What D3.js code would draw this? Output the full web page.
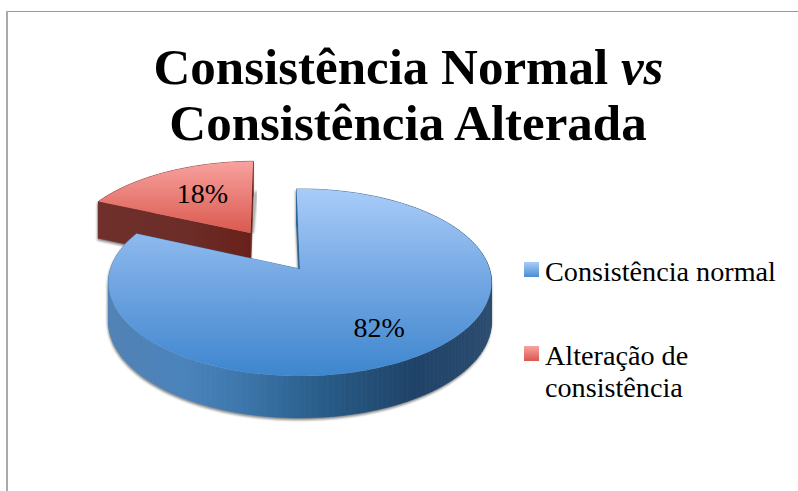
<!DOCTYPE html>
<html>
<head>
<meta charset="utf-8">
<script src="https://cdn.jsdelivr.net/npm/d3@7"></script>
<style>
  html, body { margin: 0; padding: 0; background: #fff; }
  svg { display: block; }
  text { font-family: "Liberation Serif", serif; fill: #000; }
</style>
</head>
<body>
<div id="chart"></div>
<script>
// chart values
const categories = ["Consistência normal", "Alteração de consistência"];
const values = [82, 18];
const labels = ["82%", "18%"];
const exploded = [0, 0.5];

const width = 798;
const height = 491;
const svg = d3.select("#chart").append("svg")
    .attr("width", width)
    .attr("height", height);

const defs = svg.append("defs");

function addGradient(id, stops, x1, y1, x2, y2) {
    const g = defs.append("linearGradient")
        .attr("id", id)
        .attr("gradientUnits", "userSpaceOnUse")
        .attr("x1", x1).attr("y1", y1)
        .attr("x2", x2).attr("y2", y2);
    stops.forEach(s => g.append("stop").attr("offset", s[0]).attr("stop-color", s[1]));
}

addGradient("topBlue", [[0, "#a8ccf9"], [0.5, "#72a6e2"], [1, "#3e86ce"]], 0, 189, 0, 376);
addGradient("topRed", [[0, "#f9a3a0"], [1, "#d9584d"]], 0, 160, 0, 234);
addGradient("wallBlue", [[0, "#5082b6"], [0.2, "#4a83bb"], [0.35, "#3d76ab"], [0.5, "#2c6392"],
    [0.62, "#25557f"], [0.8, "#1f4268"], [1, "#2b4c70"]], 110, 0, 492, 0);
addGradient("wallRed", [[0, "#6f2f2b"], [0.6, "#6c2c27"], [1, "#69201a"]], 97, 0, 252, 0);
addGradient("swatchBlue", [[0, "#a8ccf9"], [1, "#4a8ed2"]], 0, 0, 0, 1);
addGradient("swatchRed", [[0, "#f9a3a0"], [1, "#d9584d"]], 0, 0, 0, 1);
defs.select("#swatchBlue").attr("gradientUnits", "objectBoundingBox");
defs.select("#swatchRed").attr("gradientUnits", "objectBoundingBox");

defs.append("filter").attr("id", "soft")
    .attr("x", "-10%").attr("y", "-10%").attr("width", "120%").attr("height", "120%")
    .append("feGaussianBlur").attr("stdDeviation", 1.3);

// frame, only top and left sides are in the crop
svg.append("rect").attr("x", 6).attr("y", 11).attr("width", width - 6).attr("height", 1).attr("fill", "#999");
svg.append("rect").attr("x", 6).attr("y", 11).attr("width", 2).attr("height", height - 11).attr("fill", "#aaa");

// perspective of the pie plane
const cx = 300, cy = 269, rx = 189.5, ry = 91.6, persp = 0.144;

function project(u, v) {
    const w = 1 - persp * v;
    return [cx + rx * u / w, cy + ry * v / w, w];
}

function drop(p) {
    return [p[0], p[1] + 38.8 / Math.sqrt(p[2])];
}

const pie = d3.pie().sort(null)
    .startAngle(-1.2 * Math.PI / 180)
    .endAngle(2 * Math.PI - 1.2 * Math.PI / 180);

const arcs = pie(values).map((a, i) => {
    const mid = (a.startAngle + a.endAngle) / 2;
    const ox = Math.sin(mid) * exploded[i];
    const oy = -Math.cos(mid) * exploded[i];
    const steps = d3.range(a.startAngle, a.endAngle, Math.PI / 120).concat(a.endAngle);
    const rim = steps.map(t => project(ox + Math.sin(t), oy - Math.cos(t)));
    const apex = project(ox, oy);
    const lm = i === 0 ? 0.7 : 0.62;
    return {
        i, mid, ox, oy, apex,
        outline: [apex].concat(rim),
        label: project(ox + Math.sin(mid) * lm, oy - Math.cos(mid) * lm)
    };
});

const line = d3.line().x(d => d[0]).y(d => d[1]);

function wallQuads(outline) {
    return outline.map((p, k) => {
        const q = outline[(k + 1) % outline.length];
        return [p, q, drop(q), drop(p)];
    });
}

const names = ["Blue", "Red"];
const pieG = svg.append("g");

// shadow under the extruded shapes, red first so blue stays on top
[arcs[1], arcs[0]].forEach(a => {
    const g = pieG.append("g");

    const shadow = g.append("g").attr("filter", "url(#soft)")
        .attr("transform", "translate(-0.5,2)");
    shadow.selectAll("path").data(wallQuads(a.outline)).join("path")
        .attr("d", d => line(d) + "Z")
        .attr("fill", "#8c8c8c").attr("stroke", "#8c8c8c").attr("stroke-width", 0.5);

    // thin shadow along the cut edge, only lower part of it
    const edgeTop = project(a.ox, a.oy - 0.55);
    g.append("path")
        .attr("d", line([[edgeTop[0] + (a.i === 0 ? -3 : 2), edgeTop[1]],
            [a.apex[0] + (a.i === 0 ? -3 : 2), a.apex[1]]]))
        .attr("stroke", "#9a9a9a").attr("stroke-width", 2.5)
        .attr("filter", "url(#soft)");

    g.append("g").selectAll("path").data(wallQuads(a.outline)).join("path")
        .attr("d", d => line(d) + "Z")
        .attr("fill", `url(#wall${names[a.i]})`)
        .attr("stroke", `url(#wall${names[a.i]})`)
        .attr("stroke-width", 0.6);

    g.append("path")
        .attr("d", line(a.outline) + "Z")
        .attr("fill", `url(#top${names[a.i]})`);
});

svg.selectAll(".pct").data(arcs).join("text")
    .attr("class", "pct")
    .attr("x", d => d.label[0] + (d.i === 0 ? -1 : 6))
    .attr("y", d => d.label[1])
    .attr("dy", "0.35em")
    .attr("text-anchor", "middle")
    .attr("font-size", 28)
    .text(d => labels[d.i]);

// title
const title = svg.append("text")
    .attr("text-anchor", "middle")
    .attr("font-size", 51)
    .attr("font-weight", "bold");
const t1 = title.append("tspan").attr("x", 408.5).attr("y", 84);
t1.append("tspan").text("Consistência Normal ");
t1.append("tspan").attr("font-style", "italic").text("vs");
title.append("tspan").attr("x", 408).attr("y", 140).text("Consistência Alterada");

// legend
const legendY = [262, 346];
const legendLines = [["Consistência normal"], ["Alteração de", "consistência"]];
const legend = svg.selectAll(".leg").data(categories).join("g").attr("class", "leg");

legend.append("rect")
    .attr("x", 524)
    .attr("y", (d, i) => legendY[i])
    .attr("width", 15).attr("height", 15)
    .attr("fill", (d, i) => `url(#swatch${names[i]})`);

legend.each(function (d, i) {
    d3.select(this).selectAll("text").data(legendLines[i]).join("text")
        .attr("x", 545)
        .attr("y", (l, k) => legendY[i] + 18.6 + k * 32)
        .attr("font-size", 28.2)
        .text(l => l);
});
</script>
</body>
</html>
